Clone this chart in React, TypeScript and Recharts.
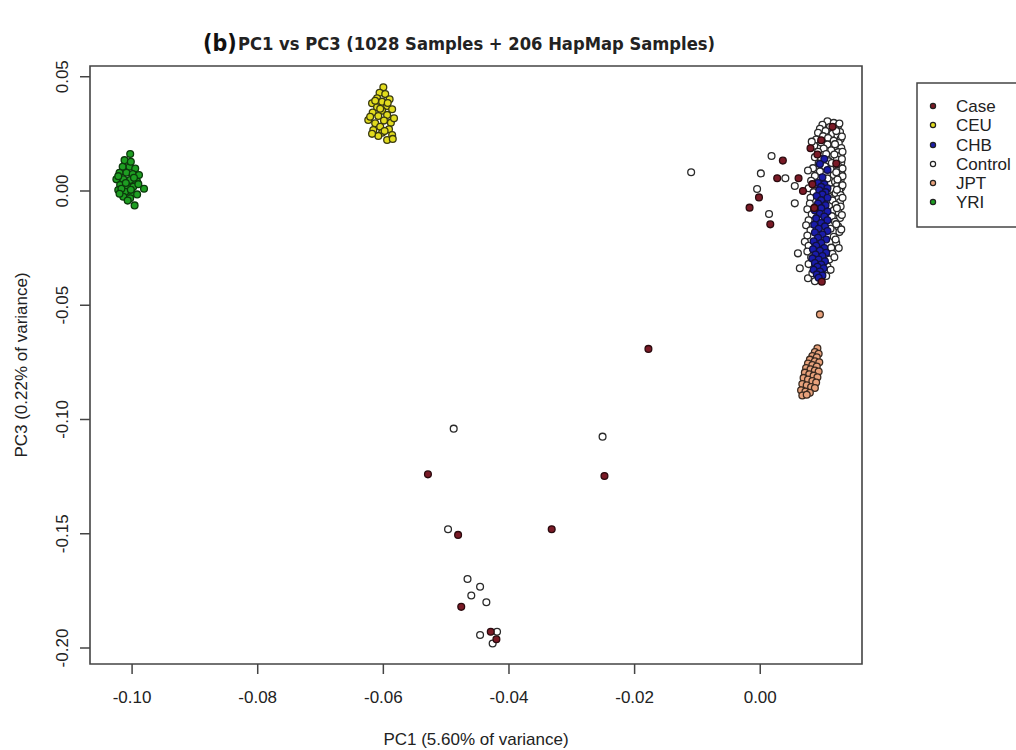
import React from 'react';
import { ScatterChart, Scatter, XAxis, YAxis, ReferenceArea } from 'recharts';

type P = [number, number];

const categories = ['Case', 'CEU', 'CHB', 'Control', 'JPT', 'YRI'];
const xTicks = [-0.1, -0.08, -0.06, -0.04, -0.02, 0];
const yTicks = [0.05, 0, -0.05, -0.1, -0.15, -0.2];
const xDomain: [number, number] = [-0.1067, 0.0162];
const yDomain: [number, number] = [-0.207, 0.0547];

const casePts: P[] = [
  [-0.0178, -0.0691], [-0.0529, -0.124], [-0.0248, -0.1247], [-0.0481, -0.1505], [-0.0332, -0.148],
  [-0.0476, -0.182], [-0.0429, -0.1929], [-0.042, -0.1962],
  [0.0036, 0.0133], [0.0027, 0.0056], [-0.0002, -0.0028], [-0.0017, -0.0073], [0.0016, -0.0146],
  [0.0061, 0.0056], [0.0068, 0.0], [0.008, 0.0187], [0.0115, 0.0281], [0.0097, 0.0222], [0.0083, 0.003],
  [0.0086, -0.0074], [0.0098, -0.0397], [0.0091, 0.016], [0.0121, 0.012],
];

const controlPts: P[] = [
  [-0.0488, -0.104], [-0.0251, -0.1075], [-0.0497, -0.148], [-0.0466, -0.1698], [-0.0446, -0.1732],
  [-0.046, -0.177], [-0.0436, -0.18], [-0.0446, -0.1943], [-0.0419, -0.1929], [-0.0426, -0.198],
  [-0.011, 0.0082], [0.0018, 0.0153], [0.0001, 0.0077], [0.004, 0.0056], [-0.0005, 0.0009],
  [0.0014, -0.0101], [0.0055, -0.0054], [0.0055, 0.0022],
  [0.0107, 0.0305], [0.0117, 0.0298], [0.0099, 0.029], [0.0124, 0.0285], [0.0111, 0.028], [0.0095, 0.0272],
  [0.012, 0.027], [0.0104, 0.0262], [0.0127, 0.0258], [0.0092, 0.0255], [0.0115, 0.025], [0.0123, 0.0242],
  [0.01, 0.024], [0.0108, 0.0232], [0.0128, 0.0228], [0.0089, 0.0225], [0.0117, 0.022], [0.0097, 0.0212],
  [0.0125, 0.021], [0.0107, 0.0204], [0.0086, 0.0198], [0.012, 0.0195], [0.0129, 0.0188], [0.0101, 0.0186],
  [0.0113, 0.0178], [0.0092, 0.0172], [0.0124, 0.017], [0.0105, 0.0162], [0.0128, 0.0155], [0.0116, 0.0152],
  [0.0087, 0.0148], [0.0097, 0.014], [0.0122, 0.0138], [0.0109, 0.013], [0.0129, 0.0125], [0.0093, 0.012],
  [0.0117, 0.0115], [0.0103, 0.0108], [0.0126, 0.0105], [0.0084, 0.01], [0.0082, 0.0216],
  [0.0112, 0.0095], [0.0124, 0.0088], [0.0076, 0.009], [0.0095, 0.0085], [0.0129, 0.0078], [0.0117, 0.007],
  [0.0087, 0.0066], [0.0125, 0.006], [0.0107, 0.0055], [0.0128, 0.0048], [0.0081, 0.0045], [0.0119, 0.004],
  [0.0127, 0.0032], [0.009, 0.0028], [0.0122, 0.0022], [0.0129, 0.0015], [0.0077, 0.0012], [0.0115, 0.0008],
  [0.0126, 0.0], [0.0085, -0.0005], [0.012, -0.001], [0.0128, -0.0018], [0.0109, -0.0024], [0.008, -0.003],
  [0.0124, -0.0035], [0.0115, -0.0042], [0.0127, -0.0048],
  [0.0079, -0.0055], [0.012, -0.006], [0.0128, -0.0068], [0.0075, -0.008], [0.0117, -0.0085], [0.0125, -0.0095],
  [0.0082, -0.0102], [0.0114, -0.011], [0.0127, -0.0118], [0.0077, -0.0128], [0.0119, -0.0135], [0.0073, -0.015],
  [0.0124, -0.0155], [0.0112, -0.0165], [0.008, -0.0172], [0.0126, -0.018], [0.0075, -0.0195], [0.0117, -0.02],
  [0.0071, -0.0222], [0.0121, -0.0228], [0.0077, -0.024], [0.0113, -0.0248],
  [0.006, -0.0273], [0.0075, -0.0265], [0.0115, -0.0275], [0.0081, -0.029], [0.011, -0.03], [0.0063, -0.0338],
  [0.0077, -0.032], [0.0107, -0.033], [0.0076, -0.0382], [0.0083, -0.036], [0.0105, -0.0372], [0.0087, -0.0395],
  [0.0126, 0.0295], [0.0121, 0.0262], [0.013, 0.0238], [0.0119, 0.0205], [0.0131, 0.0172], [0.0118, 0.016],
  [0.013, 0.014], [0.0114, 0.0122], [0.0131, 0.0098], [0.0121, 0.0082], [0.0131, 0.0065], [0.0123, 0.005],
  [0.0131, 0.0025], [0.0122, 0.0005], [0.0131, -0.003], [0.0122, -0.0075], [0.013, -0.0105], [0.0121, -0.0145],
  [0.0129, -0.0168], [0.012, -0.0212], [0.0125, -0.025], [0.0118, -0.029], [0.0112, -0.0345],
];

const chbPts: P[] = [
  [0.0102, 0.014], [0.0095, 0.0118], [0.0107, 0.0092], [0.0099, 0.006],
  [0.0092, 0.0035], [0.0102, 0.003], [0.0097, 0.0018], [0.0107, 0.0012], [0.0094, 0.0003], [0.0104, -0.0005],
  [0.0099, -0.0015], [0.009, -0.0022], [0.0107, -0.003], [0.0097, -0.004],
  [0.0092, -0.0055], [0.0104, -0.0062], [0.0097, -0.0075], [0.0087, -0.0085], [0.0107, -0.009], [0.0095, -0.01],
  [0.0102, -0.0112], [0.0089, -0.012], [0.0107, -0.0128], [0.0097, -0.014], [0.0086, -0.0148], [0.0103, -0.0155],
  [0.0093, -0.0165], [0.0107, -0.0175], [0.0087, -0.0182], [0.0099, -0.019], [0.0092, -0.0205], [0.0105, -0.0212],
  [0.0085, -0.022], [0.0097, -0.0228], [0.0089, -0.024],
  [0.0102, -0.025], [0.0084, -0.0255], [0.0095, -0.0262], [0.0105, -0.027], [0.0088, -0.0278], [0.0099, -0.0285],
  [0.0083, -0.0295], [0.0093, -0.03], [0.0103, -0.0308], [0.0087, -0.0315], [0.0097, -0.0322], [0.0091, -0.0332],
  [0.0101, -0.0338], [0.0085, -0.0345], [0.0095, -0.0352], [0.009, -0.0365], [0.0099, -0.037], [0.0093, -0.038],
];

const jptPts: P[] = [
  [0.0095, -0.054],
  [0.0091, -0.0688], [0.0087, -0.0705], [0.0093, -0.0712], [0.0083, -0.0722], [0.009, -0.0728], [0.0079, -0.0738],
  [0.0087, -0.0745], [0.0094, -0.075], [0.0076, -0.0755], [0.0083, -0.0762], [0.009, -0.0768], [0.0073, -0.0775],
  [0.008, -0.078], [0.0087, -0.0786], [0.0093, -0.079], [0.0071, -0.0795], [0.0078, -0.0802], [0.0085, -0.0808],
  [0.0091, -0.0815], [0.0069, -0.0818], [0.0076, -0.0825], [0.0083, -0.0832], [0.0089, -0.0838], [0.0067, -0.0845],
  [0.0074, -0.085], [0.0081, -0.0858], [0.0087, -0.0862], [0.0065, -0.0872], [0.0072, -0.0878], [0.0079, -0.0883],
  [0.0067, -0.0895], [0.0074, -0.0892],
];

const ceuPts: P[] = [
  [-0.06, 0.0454], [-0.0606, 0.043], [-0.0597, 0.0424], [-0.061, 0.0406], [-0.059, 0.0401], [-0.0602, 0.0391],
  [-0.0618, 0.0384], [-0.0594, 0.0372], [-0.061, 0.0366], [-0.0586, 0.0358], [-0.0602, 0.0351], [-0.0617, 0.0343],
  [-0.0594, 0.0333], [-0.0608, 0.0328], [-0.0624, 0.0311], [-0.0599, 0.0308], [-0.0588, 0.0299], [-0.0613, 0.0296],
  [-0.0605, 0.0281], [-0.0591, 0.027], [-0.0616, 0.0267], [-0.0602, 0.0255], [-0.0608, 0.0241], [-0.0594, 0.0223],
  [-0.0586, 0.0245], [-0.0613, 0.0395], [-0.0593, 0.0385], [-0.0605, 0.036], [-0.0621, 0.0325], [-0.0583, 0.0318],
  [-0.0598, 0.0262], [-0.0618, 0.025], [-0.0585, 0.0228],
];

const yriPts: P[] = [
  [-0.1003, 0.0162], [-0.1015, 0.0106], [-0.1004, 0.0106], [-0.0995, 0.0098], [-0.102, 0.008], [-0.1009, 0.008],
  [-0.0999, 0.0074], [-0.0989, 0.007], [-0.1025, 0.0051], [-0.1014, 0.0051], [-0.1003, 0.0048], [-0.0992, 0.0041],
  [-0.1019, 0.0026], [-0.1008, 0.0022], [-0.0998, 0.0019], [-0.0981, 0.001], [-0.1022, 0.0004], [-0.1011, -0.0003],
  [-0.1, -0.001], [-0.1014, -0.0025], [-0.1003, -0.0032], [-0.1007, -0.0042], [-0.0996, -0.0063],
  [-0.1012, 0.0135], [-0.1002, 0.0128], [-0.1022, 0.0065], [-0.0997, 0.0058], [-0.101, 0.0035], [-0.099, 0.003],
  [-0.1017, 0.001], [-0.1002, 0.0005], [-0.0992, -0.0015], [-0.102, -0.0012],
];

const colors: Record<string, string> = {
  Case: '#7a1a26',
  CEU: '#e2dc1e',
  CHB: '#1a1caa',
  Control: '#ffffff',
  JPT: '#e8a27c',
  YRI: '#1e9e22',
};

const toRows = (pts: P[]) => pts.map(([x, y]) => ({ x, y }));

const dot = (fill: string, stroke: string) => (props: any) => {
  const { cx, cy } = props;
  if (cx == null || cy == null) return <g />;
  return <circle cx={cx} cy={cy} r={3.4} fill={fill} stroke={stroke} strokeWidth={1.3} />;
};

const font = '"Liberation Sans", Arial, sans-serif';

const XTick = (props: any) => {
  const { x, y, payload } = props;
  return (
    <text x={x} y={y} dy={14} textAnchor="middle" fontSize={17} fontFamily={font} fill="#222">
      {Number(payload.value).toFixed(2)}
    </text>
  );
};

const YTick = (props: any) => {
  const { x, y, payload } = props;
  return (
    <text x={x} y={y} transform={`rotate(-90 ${x} ${y})`} textAnchor="middle" fontSize={17} fontFamily={font} fill="#222">
      {Number(payload.value).toFixed(2)}
    </text>
  );
};

const series: { name: string; pts: P[]; stroke: string }[] = [
  { name: 'Control', pts: controlPts, stroke: '#2a2a2a' },
  { name: 'CHB', pts: chbPts, stroke: '#101040' },
  { name: 'Case', pts: casePts, stroke: '#2a0a0e' },
  { name: 'JPT', pts: jptPts, stroke: '#3a2a20' },
  { name: 'CEU', pts: ceuPts, stroke: '#3a3a10' },
  { name: 'YRI', pts: yriPts, stroke: '#0c3a0c' },
];

const legendRows = [106, 125, 145, 164, 183, 202];

export default function App() {
  return (
    <div style={{ position: 'absolute', left: 0, top: 0, width: 1016, height: 750, background: '#fff' }}>
      <ScatterChart width={1016} height={750} margin={{ top: 66, right: 154, bottom: 36, left: 30 }}>
        <XAxis
          type="number"
          dataKey="x"
          domain={xDomain}
          ticks={xTicks}
          allowDataOverflow
          axisLine={false}
          tickSize={10}
          tickMargin={15}
          tickLine={{ stroke: '#444', strokeWidth: 1.5 }}
          height={50}
          tick={<XTick />}
        />
        <YAxis
          type="number"
          dataKey="y"
          domain={yDomain}
          ticks={yTicks}
          allowDataOverflow
          axisLine={false}
          tickSize={10}
          tickMargin={12}
          tickLine={{ stroke: '#444', strokeWidth: 1.5 }}
          width={60}
          tick={<YTick />}
        />
        <ReferenceArea
          x1={xDomain[0]}
          x2={xDomain[1]}
          y1={yDomain[0]}
          y2={yDomain[1]}
          fill="none"
          fillOpacity={0}
          stroke="#444"
          strokeWidth={1.6}
          ifOverflow="visible"
        />
        {series.map((s) => (
          <Scatter
            key={s.name}
            name={s.name}
            data={toRows(s.pts)}
            isAnimationActive={false}
            shape={dot(colors[s.name], s.stroke)}
          />
        ))}
      </ScatterChart>
      <svg width={1016} height={750} style={{ position: 'absolute', left: 0, top: 0, pointerEvents: 'none' }}>
        <text x={203} y={51} fontSize={23} fontWeight="bold" fontFamily='"Liberation Sans Narrow", "DejaVu Sans Condensed", Arial, sans-serif' fill="#111">
          (b)
        </text>
        <text
          x={238}
          y={50}
          fontSize={17}
          fontWeight="bold"
          fontFamily='"Liberation Sans Narrow", "DejaVu Sans Condensed", Arial, sans-serif'
          fill="#222"
          textLength={477}
          lengthAdjust="spacingAndGlyphs"
        >
          PC1 vs PC3 (1028 Samples + 206 HapMap Samples)
        </text>
        <text x={476} y={745} textAnchor="middle" fontSize={17} fontFamily={font} fill="#222">
          PC1 (5.60% of variance)
        </text>
        <text x={27} y={365} transform="rotate(-90 27 365)" textAnchor="middle" fontSize={17} fontFamily={font} fill="#222">
          PC3 (0.22% of variance)
        </text>
        <rect x={917} y={83} width={130} height={144} fill="#fff" stroke="#444" strokeWidth={1.5} />
        {categories.map((c, i) => (
          <g key={c}>
            <circle cx={933} cy={legendRows[i]} r={2.6} fill={colors[c]} stroke="#222" strokeWidth={1.2} />
            <text x={956} y={legendRows[i] + 6} fontSize={17} fontFamily={font} fill="#222">
              {c}
            </text>
          </g>
        ))}
      </svg>
    </div>
  );
}
